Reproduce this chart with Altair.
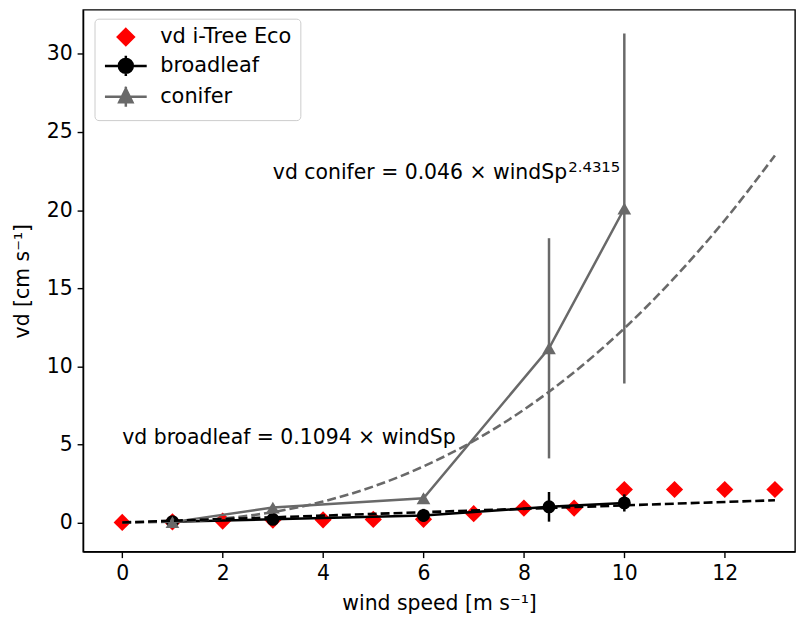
import altair as alt
import pandas as pd

# ---------------- data ----------------
eco_wind = [0, 1, 2, 3, 4, 5, 6, 7, 8, 9, 10, 11, 12, 13]
eco_vd = [0.00, 0.03, 0.09, 0.15, 0.17, 0.19, 0.20, 0.56, 0.92, 0.92, 2.11, 2.11, 2.11, 2.11]

meas_wind = [1, 3, 6, 8.5, 10]
broadleaf_vd = [0.05, 0.20, 0.45, 1.00, 1.25]
broadleaf_err = [0.05, 0.10, 0.42, 0.95, 0.55]
conifer_vd = [0.02, 0.95, 1.55, 11.15, 20.10]
conifer_err = [0.05, 0.15, 0.25, 7.05, 11.20]

fit_wind = [0, 1, 2, 3, 4, 5, 6, 7, 8, 9, 10, 11, 12, 13]
conifer_fit_vd = [0.00, 0.05, 0.25, 0.66, 1.34, 2.30, 3.59, 5.22, 7.22, 9.62, 12.43, 15.67, 19.35, 23.50]
broadleaf_fit_wind = [0, 13]
broadleaf_fit_vd = [0.0, 1.42]

series_names = ["vd i-Tree Eco", "broadleaf", "conifer"]
series_colors = ["#ff0000", "#000000", "#696969"]
legend_paths = [
    "M0,-1.15L1.15,0L0,1.15L-1.15,0Z",
    "M-3,0H3M0,-1.45V1.45M1,0A1,1,0,1,0,-1,0A1,1,0,1,0,1,0Z",
    "M-3,0H3M0,-1.45V1.45M0,-1.15L0.95,0.8L-0.95,0.8Z",
]

ann_text = ["vd conifer = 0.046 \u00d7 windSp", "vd broadleaf = 0.1094 \u00d7 windSp"]
ann_x = [3, 0]
ann_y = [22, 5]
sup_text = ["2.4315"]
sup_x = [3]
sup_y = [22]

x_ticks = [0, 2, 4, 6, 8, 10, 12]
y_ticks = [0, 5, 10, 15, 20, 25, 30]

FONT = "DejaVu Sans"
FS = 20.5
GRAY = series_colors[2]

# ---------------- tables ----------------
eco_df = pd.DataFrame({"x": eco_wind, "y": eco_vd})
bl_df = pd.DataFrame({"x": meas_wind, "y": broadleaf_vd, "err": broadleaf_err})
cf_df = pd.DataFrame({"x": meas_wind, "y": conifer_vd, "err": conifer_err})
cf_fit_df = pd.DataFrame({"x": fit_wind, "y": conifer_fit_vd})
bl_fit_df = pd.DataFrame({"x": broadleaf_fit_wind, "y": broadleaf_fit_vd})
ann_df = pd.DataFrame({"x": ann_x, "y": ann_y, "t": ann_text})
sup_df = pd.DataFrame({"x": sup_x, "y": sup_y, "t": sup_text})
leg_df = pd.DataFrame({"series": series_names, "x": [None] * 3, "y": [None] * 3})

xs = alt.Scale(domain=[-0.78, 13.4], nice=False, zero=False)
ys = alt.Scale(domain=[-1.87, 32.83], nice=False, zero=False)
x_axis = alt.Axis(values=x_ticks, title="wind speed [m s\u207b\u00b9]", grid=False)
y_axis = alt.Axis(values=y_ticks, title="vd [cm s\u207b\u00b9]", grid=False)


def X(field="x"):
    return alt.X(field, type="quantitative", scale=xs, axis=x_axis)


def Y(field="y"):
    return alt.Y(field, type="quantitative", scale=ys, axis=y_axis)


eco = alt.Chart(eco_df).mark_point(
    shape="diamond", filled=True, size=300, color=series_colors[0], opacity=1
).encode(x=X(), y=Y())


def measured(df, color, shape, size):
    base = alt.Chart(df)
    bars = base.transform_calculate(
        lo="datum.y - datum.err", hi="datum.y + datum.err"
    ).mark_rule(color=color, strokeWidth=2.5).encode(x=X(), y=Y("lo"), y2="hi:Q")
    line = base.mark_line(color=color, strokeWidth=2.5).encode(x=X(), y=Y())
    pts = base.mark_point(
        shape=shape, filled=True, size=size, color=color, opacity=1
    ).encode(x=X(), y=Y())
    return [bars, line, pts]


bl_layers = measured(bl_df, series_colors[1], "circle", 170)
cf_layers = measured(cf_df, GRAY, "triangle-up", 190)

bl_fit = alt.Chart(bl_fit_df).mark_line(
    color="black", strokeWidth=2.6, strokeDash=[9, 4]
).encode(x=X(), y=Y())
cf_fit = alt.Chart(cf_fit_df).mark_line(
    color=GRAY, strokeWidth=2.6, strokeDash=[9, 4], interpolate="monotone"
).encode(x=X(), y=Y())

ann = alt.Chart(ann_df).mark_text(
    align="left", baseline="alphabetic", fontSize=FS, font=FONT, color="black"
).encode(x=X(), y=Y(), text="t:N")
sup = alt.Chart(sup_df).mark_text(
    align="left", baseline="alphabetic", fontSize=15, font=FONT, color="black",
    dx=297, dy=-7
).encode(x=X(), y=Y(), text="t:N")

leg_scale_fill = alt.Scale(domain=series_names, range=series_colors)
legend = alt.Chart(leg_df).mark_point(opacity=1).encode(
    x=X(), y=Y(),
    fill=alt.Fill("series:N", scale=leg_scale_fill, title=None),
    stroke=alt.Stroke("series:N", scale=leg_scale_fill, title=None),
    shape=alt.Shape("series:N", scale=alt.Scale(domain=series_names, range=legend_paths), title=None),
)

chart = alt.layer(
    eco, *bl_layers, *cf_layers, cf_fit, bl_fit, ann, sup, legend
).properties(
    width=716,
    height=545,
    autosize=alt.AutoSizeParams(type="none"),
    padding={"left": 75.5, "top": 0, "right": 5, "bottom": 66},
).configure_view(
    stroke="black", strokeWidth=1.4
).configure_axis(
    labelFont=FONT, titleFont=FONT, labelFontSize=FS, titleFontSize=FS,
    titleFontWeight="normal", labelColor="black", titleColor="black",
    domainColor="black", domainWidth=1.4, tickColor="black", tickWidth=1.4,
    tickSize=6, labelPadding=5,
).configure_axisX(
    labelPadding=6, titlePadding=10,
).configure_axisY(
    titlePadding=14,
).configure_legend(
    orient="none", legendX=11.5, legendY=9,
    labelFont=FONT, labelFontSize=21, labelColor="black",
    symbolSize=196, symbolStrokeWidth=2.5, symbolOpacity=1,
    strokeColor="#cccccc", fillColor="white", cornerRadius=4,
    padding=8, rowPadding=0, symbolOffset=13, labelOffset=24,
)

chart.save("out.html", embed_options={"renderer": "svg", "actions": False})
